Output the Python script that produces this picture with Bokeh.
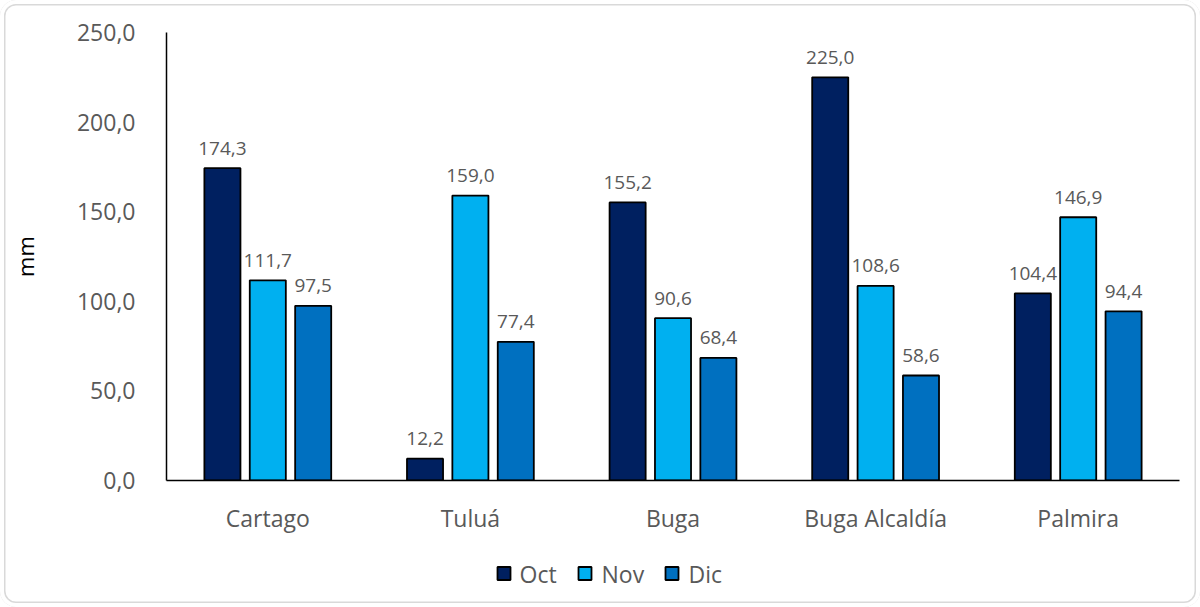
from bokeh.plotting import figure
from bokeh.layouts import column
from bokeh.models import (ColumnDataSource, FactorRange, Range1d, CustomJSTickFormatter,
                          FixedTicker)
from bokeh.transform import dodge
from bokeh.core.properties import value
from bokeh.embed import file_html
from bokeh.resources import INLINE

stations = ["Cartago", "Tuluá", "Buga", "Buga Alcaldía", "Palmira"]
months = ["Oct", "Nov", "Dic"]
oct_vals = [174.3, 12.2, 155.2, 225.0, 104.4]
nov_vals = [111.7, 159.0, 90.6, 108.6, 146.9]
dic_vals = [97.5, 77.4, 68.4, 58.6, 94.4]
colors = ["#002060", "#00B0F0", "#0070C0"]
y_ticks = [0, 50, 100, 150, 200, 250]

# legend layout (screen pixels inside the legend strip)
legend_marker_x = [503.5, 584.5, 671.5]
legend_text_x = [519, 601, 688]

FONT = "Open Sans"
GRAY = "#595959"

def fmt(v):
    return f"{v:.1f}".replace(".", ",")

src = ColumnDataSource(dict(
    st=stations,
    Oct=oct_vals, Nov=nov_vals, Dic=dic_vals,
    Oct_l=[fmt(v) for v in oct_vals],
    Nov_l=[fmt(v) for v in nov_vals],
    Dic_l=[fmt(v) for v in dic_vals],
))

p = figure(width=1200, height=555,
           x_range=FactorRange(*stations, range_padding=0),
           y_range=Range1d(0, 250), output_backend="svg", toolbar_location=None,
           tools="")
p.min_border_left = 166
p.min_border_right = 21
p.min_border_top = 32
p.min_border_bottom = 75
p.outline_line_color = None
p.grid.visible = False
p.background_fill_color = None
p.border_fill_color = None

offsets = [-0.224, 0.0, 0.224]
for m, off, c in zip(months, offsets, colors):
    p.vbar(x=dodge("st", off, range=p.x_range), top=m, width=0.178, source=src,
           fill_color=c, line_color="black", line_width=1.8)
    p.text(x=dodge("st", off, range=p.x_range), y=m, text=m + "_l", source=src,
           text_align="center", text_baseline="alphabetic", y_offset=-20,
           text_font=value(FONT), text_font_size="19px", text_color=GRAY)

# axes
p.yaxis.ticker = FixedTicker(ticks=y_ticks)
p.yaxis.formatter = CustomJSTickFormatter(code="return tick.toFixed(1).replace('.', ',');")
p.yaxis.major_tick_line_color = None
p.yaxis.minor_tick_line_color = None
p.yaxis.axis_line_color = "black"
p.yaxis.axis_line_width = 1.5
p.yaxis.major_label_text_font = FONT
p.yaxis.major_label_text_font_size = "23px"
p.yaxis.major_label_text_color = GRAY
p.yaxis.major_label_standoff = 25
p.yaxis.axis_label = "mm"
p.yaxis.axis_label_text_font = FONT
p.yaxis.axis_label_text_font_size = "22px"
p.yaxis.axis_label_text_font_style = "normal"
p.yaxis.axis_label_text_color = "black"
p.yaxis.axis_label_standoff = 34

p.xaxis.major_tick_line_color = None
p.xaxis.minor_tick_line_color = None
p.xaxis.axis_line_color = "black"
p.xaxis.axis_line_width = 1.5
p.xaxis.major_label_text_font = FONT
p.xaxis.major_label_text_font_size = "23px"
p.xaxis.major_label_text_color = GRAY
p.xaxis.major_label_standoff = 15

# legend strip (its frame is aligned with the main frame: 166..1179 px)
lg = figure(width=1200, height=52, x_range=Range1d(166, 1179), y_range=Range1d(0, 52),
            output_backend="svg", toolbar_location=None, tools="",
            x_axis_location=None, y_axis_location=None,
            min_border=0, min_border_left=0, min_border_right=0,
            min_border_top=0, min_border_bottom=0)
lg.grid.visible = False
lg.outline_line_color = None
lg.background_fill_color = None
lg.border_fill_color = None
lsrc = ColumnDataSource(dict(mx=legend_marker_x, tx=legend_text_x, y=[34] * 3,
                             lab=months, col=colors))
lg.scatter(x="mx", y="y", marker="square", size=13, fill_color="col",
           line_color="black", line_width=1.8, source=lsrc)
lg.text(x="tx", y="y", text="lab", source=lsrc, text_align="left",
        text_baseline="middle", text_font=value(FONT), text_font_size="23px",
        text_color=GRAY)

layout = column(p, lg, spacing=0)
layout.styles = {"border-radius": "16px",
                 "box-shadow": "inset 0 0 0 4px white, inset 0 0 0 5.5px #d9d9d9",
                 "background-color": "white"}

open("out.html", "w").write(file_html(layout, INLINE))
